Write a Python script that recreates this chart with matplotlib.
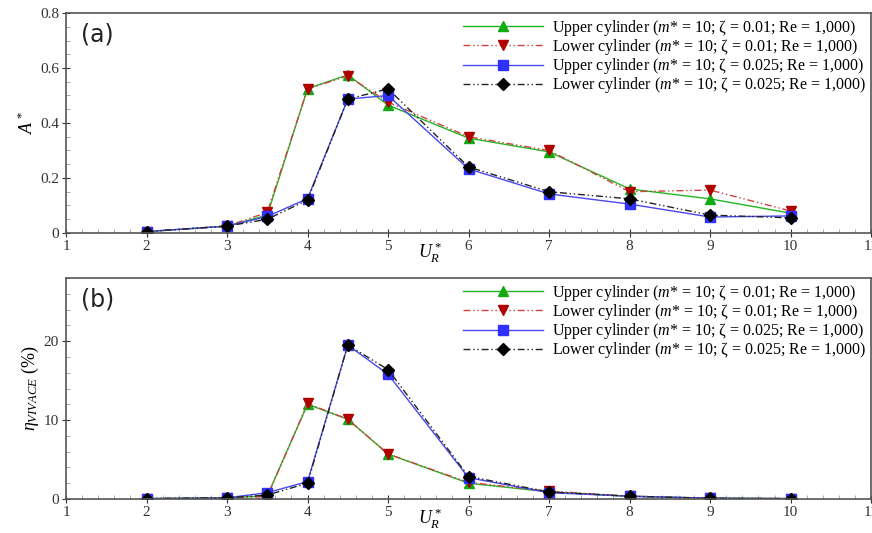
import matplotlib
matplotlib.use("Agg")
import matplotlib.pyplot as plt
from matplotlib.ticker import MultipleLocator, FuncFormatter

# Reduced velocity values
ur = [2, 3, 3.5, 4, 4.5, 5, 6, 7, 8, 9, 10]

# Amplitude ratio A*
amp_upper_001 = [0.005, 0.025, 0.065, 0.525, 0.575, 0.465, 0.345, 0.295, 0.16, 0.124, 0.072]
amp_lower_001 = [0.005, 0.025, 0.075, 0.524, 0.571, 0.476, 0.35, 0.30, 0.15, 0.156, 0.08]
amp_upper_0025 = [0.005, 0.025, 0.06, 0.125, 0.487, 0.50, 0.233, 0.142, 0.105, 0.058, 0.062]
amp_lower_0025 = [0.005, 0.025, 0.05, 0.12, 0.487, 0.524, 0.24, 0.15, 0.124, 0.065, 0.055]

# Harvesting efficiency (%)
eta_upper_001 = [0.05, 0.15, 0.4, 12.0, 10.1, 5.7, 2.0, 0.9, 0.35, 0.1, 0.05]
eta_lower_001 = [0.05, 0.15, 0.3, 12.1, 10.1, 5.7, 2.1, 1.0, 0.35, 0.1, 0.05]
eta_upper_0025 = [0.05, 0.15, 0.8, 2.2, 19.5, 15.8, 2.7, 0.8, 0.35, 0.1, 0.05]
eta_lower_0025 = [0.05, 0.15, 0.5, 2.0, 19.5, 16.4, 2.85, 0.9, 0.35, 0.1, 0.05]

labels = [
    r"Upper cylinder ($m$* = 10; ζ = 0.01; Re = 1,000)",
    r"Lower cylinder ($m$* = 10; ζ = 0.01; Re = 1,000)",
    r"Upper cylinder ($m$* = 10; ζ = 0.025; Re = 1,000)",
    r"Lower cylinder ($m$* = 10; ζ = 0.025; Re = 1,000)",
]

plt.rcParams["font.family"] = ["Liberation Serif", "DejaVu Serif"]
plt.rcParams["mathtext.fontset"] = "custom"
plt.rcParams["mathtext.rm"] = "Liberation Serif"
plt.rcParams["mathtext.it"] = "Liberation Serif:italic"
plt.rcParams["mathtext.bf"] = "Liberation Serif:bold"

dashdotdot = (0, (5, 2, 1, 2, 1, 2))
styles = [
    dict(color="#22b522", ls="-", marker="^", mfc="#11aa11", mec="#11aa11"),
    dict(color="#d04040", ls=dashdotdot, marker="v", mfc="#b00000", mec="#b00000"),
    dict(color="#4848ee", ls="-", marker="s", mfc="#3030ff", mec="#3030ff"),
    dict(color="#222222", ls=dashdotdot, marker="D", mfc="black", mec="black"),
]

fig = plt.figure(figsize=(8.72, 5.33), dpi=100)
ax1 = fig.add_axes([0.0757, 0.5629, 0.9233, 0.4127])
ax2 = fig.add_axes([0.0757, 0.0638, 0.9233, 0.4146])


def plain_number(v, pos):
    if abs(v) < 1e-9:
        return "0"
    return f"{v:g}"


def draw(ax, series, ylim, ymajor, yminor, ylabel, tag):
    for ys, st, lab in zip(series, styles, labels):
        ms = 6.5 if st["marker"] != "D" else 6
        ax.plot(ur, ys, lw=1.0, markersize=ms, label=lab, **st)
    ax.set_xlim(1, 11)
    ax.set_ylim(*ylim)
    ax.xaxis.set_major_locator(MultipleLocator(1))
    ax.xaxis.set_minor_locator(MultipleLocator(0.2))
    ax.yaxis.set_major_locator(MultipleLocator(ymajor))
    ax.yaxis.set_minor_locator(MultipleLocator(yminor))
    ax.yaxis.set_major_formatter(FuncFormatter(plain_number))
    ax.tick_params(which="major", direction="inout", length=6, width=0.8,
                   labelsize=11, colors="#333333", pad=2)
    ax.tick_params(which="minor", direction="in", length=3, width=0.5, colors="#888888")
    for sp in ax.spines.values():
        sp.set_color("#555555")
        sp.set_linewidth(1.2)
    ax.set_xlabel(r"$U_R^*$", fontsize=13, labelpad=0)
    ax.xaxis.set_label_coords(0.452, -0.035)
    ax.set_ylabel(ylabel, fontsize=13, labelpad=2)
    ax.text(0.018, 0.87, tag, transform=ax.transAxes, fontsize=17,
            family="DejaVu Sans", color="#222222")
    ax.legend(loc="upper right", frameon=False, fontsize=11.5, handlelength=5.0,
              labelspacing=-0.05, borderaxespad=0.2, handletextpad=0.6,
              borderpad=0.1)


draw(ax1, [amp_upper_001, amp_lower_001, amp_upper_0025, amp_lower_0025],
     (0, 0.8), 0.2, 0.05, r"$A^*$", "(a)")
draw(ax2, [eta_upper_001, eta_lower_001, eta_upper_0025, eta_lower_0025],
     (0, 28), 10, 2, r"$\eta_{VIVACE}$ (%)", "(b)")

fig.savefig("out.png", dpi=100)
